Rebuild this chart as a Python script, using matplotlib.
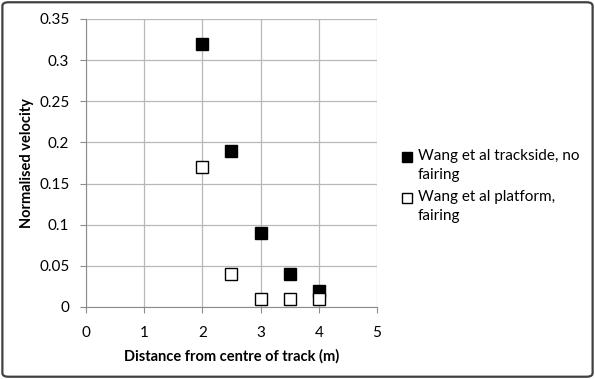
import matplotlib.pyplot as plt
from matplotlib.patches import FancyBboxPatch
from matplotlib.legend_handler import HandlerLine2D

distance = [2, 2.5, 3, 3.5, 4]
trackside = [0.32, 0.19, 0.09, 0.04, 0.02]
platform = [0.17, 0.04, 0.01, 0.01, 0.01]
labels = ["Wang et al trackside, no\nfairing", "Wang et al platform,\nfairing"]


class FirstLineHandler(HandlerLine2D):
    # put the marker next to the first line of a two-line label
    def create_artists(self, legend, orig_handle, xdescent, ydescent, width, height, fontsize, trans):
        return super().create_artists(legend, orig_handle, xdescent, ydescent - 1.15 * fontsize,
                                      width, height, fontsize, trans)


plt.rcParams['font.family'] = ['Lato', 'DejaVu Sans']

fig = plt.figure(figsize=(5.95, 3.79), dpi=100)
ax = fig.add_axes([0.1445, 0.19, 0.489, 0.76])

l1, = ax.plot(distance, trackside, 's', color='black', markersize=8, label=labels[0], zorder=3)
l2, = ax.plot(distance, platform, 's', markerfacecolor='white', markeredgecolor='black',
              markeredgewidth=1.0, markersize=8, label=labels[1], zorder=4)

ax.set_xlim(0, 5)
ax.set_ylim(0, 0.35)
ax.set_xticks(range(0, 6))
ax.set_yticks([0, 0.05, 0.1, 0.15, 0.2, 0.25, 0.3, 0.35])
ax.set_yticklabels(['0', '0.05', '0.1', '0.15', '0.2', '0.25', '0.3', '0.35'])
ax.grid(True, color='#b8b8b8', linewidth=0.9)
ax.set_axisbelow(True)
for s in ['top', 'right']:
    ax.spines[s].set_visible(False)
for s in ['left', 'bottom']:
    ax.spines[s].set_color('#8c8c8c')
ax.tick_params(axis='both', colors='#8c8c8c', labelcolor='black', labelsize=11, length=4)
ax.tick_params(axis='x', pad=10)
ax.tick_params(axis='y', pad=8)

ax.set_xlabel("Distance from centre of track (m)", fontsize=10.5, fontweight='bold', labelpad=6)
ax.set_ylabel("Normalised velocity", fontsize=10.5, fontweight='bold', labelpad=4)

leg = ax.legend(loc='center left', bbox_to_anchor=(1.04, 0.42), frameon=False, fontsize=11,
                handlelength=0.6, handletextpad=0.4, labelspacing=0.5, markerscale=0.95,
                handler_map={l1: FirstLineHandler(), l2: FirstLineHandler()})
for t in leg.get_texts():
    t.set_linespacing(1.45)

border = FancyBboxPatch((0.004, 0.006), 0.992, 0.988, boxstyle="round,pad=0,rounding_size=0.01",
                        transform=fig.transFigure, fill=False, edgecolor='#404040', linewidth=1.6)
fig.patches.append(border)

fig.savefig("out.png", dpi=100)
